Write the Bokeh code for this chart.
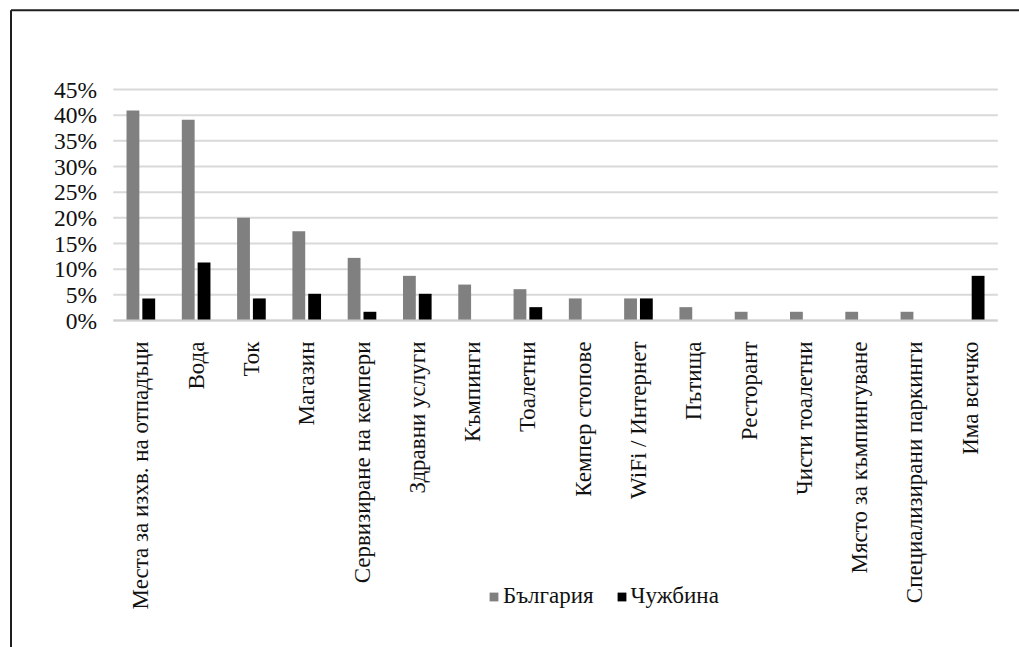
from bokeh.plotting import figure
from bokeh.models import (ColumnDataSource, Range1d, FixedTicker,
                          PrintfTickFormatter, Legend, LegendItem)
from bokeh.embed import file_html
from bokeh.resources import INLINE
import math

# Facilities mentioned, share of respondents (%)
categories = [
    "Места за изхв. на отпадъци", "Вода", "Ток", "Магазин",
    "Сервизиране на кемпери", "Здравни услуги", "Къмпинги", "Тоалетни",
    "Кемпер стопове", "WiFi / Интернет", "Пътища", "Ресторант",
    "Чисти тоалетни", "Място за къмпингуване", "Специализирани паркинги",
    "Има всичко",
]
bulgaria = [40.9, 39.1, 20.0, 17.4, 12.2, 8.7, 7.0, 6.1, 4.3, 4.3, 2.6, 1.7,
            1.7, 1.7, 1.7, 0.0]
abroad = [4.3, 11.3, 4.3, 5.2, 1.7, 5.2, 0.0, 2.6, 0.0, 4.3, 0.0, 0.0,
          0.0, 0.0, 0.0, 8.7]
y_ticks = [0, 5, 10, 15, 20, 25, 30, 35, 40, 45]
series_names = ["България", "Чужбина"]

FONT = "Liberation Serif"
GREY = "#808080"
BLACK = "#000000"
TEXT = "#111111"

# Page geometry: the plotting frame covers the whole page, so the axes are
# pinned inside it and the ranges are derived from pixel sizes.
W, H = 1019, 647
PLOT_LEFT, SLOT = 112.7, 55.29           # px of first slot edge, px per category
ZERO_Y, PX_PER_PCT = 320.0, 231.0 / 45   # px of 0 %, px per percent
x0 = -PLOT_LEFT / SLOT
x1 = (W - PLOT_LEFT) / SLOT
y1 = ZERO_Y / PX_PER_PCT
y0 = -(H - ZERO_Y) / PX_PER_PCT

n = len(categories)
centers = [i + 0.5 for i in range(n)]
src = ColumnDataSource(dict(
    xb=[c - 0.143 for c in centers], xa=[c + 0.143 for c in centers],
    bg=bulgaria, ab=abroad,
))

p = figure(
    x_range=Range1d(x0, x1), y_range=Range1d(y0, y1),
    frame_width=W, frame_height=H,
    output_backend="svg", toolbar_location=None,
    min_border=0,
)
p.outline_line_color = None
p.background_fill_color = "white"
p.border_fill_color = "white"

# Horizontal grid lines across the category span only
p.segment(x0=[0] * len(y_ticks), x1=[n] * len(y_ticks), y0=y_ticks, y1=y_ticks,
          line_color="#d9d9d9", line_width=2)

r1 = p.vbar(x="xb", top="bg", width=0.232, source=src,
            fill_color=GREY, line_color=None)
r2 = p.vbar(x="xa", top="ab", width=0.232, source=src,
            fill_color=BLACK, line_color=None)

# Frame border along the top and left of the page
bx = x0 + 10.5 / SLOT
by = y1 - 9.8 / PX_PER_PCT
p.segment(x0=[bx, bx], y0=[by, by], x1=[x1, bx], y1=[by, y0],
          line_color="#1e1e1e", line_width=2)

# Axes
p.yaxis.fixed_location = 0
p.yaxis.ticker = FixedTicker(ticks=y_ticks)
p.yaxis.formatter = PrintfTickFormatter(format="%d%%")
p.yaxis.axis_line_color = None
p.yaxis.major_tick_line_color = None
p.yaxis.minor_tick_line_color = None
p.yaxis.major_label_text_font = FONT
p.yaxis.major_label_text_font_size = "23.5px"
p.yaxis.major_label_text_color = TEXT
p.yaxis.major_label_standoff = 10

p.xaxis.fixed_location = 0
p.xaxis.bounds = (0, n)
p.xaxis.ticker = FixedTicker(ticks=centers)
p.xaxis.major_label_overrides = {c: name for c, name in zip(centers, categories)}
p.xaxis.axis_line_color = "#d0d0d0"
p.xaxis.axis_line_width = 2
p.xaxis.major_tick_line_color = None
p.xaxis.minor_tick_line_color = None
p.xaxis.major_label_orientation = math.pi / 2
p.xaxis.major_label_text_font = FONT
p.xaxis.major_label_text_font_size = "23px"
p.xaxis.major_label_text_color = TEXT
p.xaxis.major_label_standoff = 15

p.xgrid.grid_line_color = None
p.ygrid.grid_line_color = None

legend = Legend(
    items=[LegendItem(label=series_names[0], renderers=[r1]),
           LegendItem(label=series_names[1], renderers=[r2])],
    orientation="horizontal",
    location=(488, 38),
    label_text_font=FONT, label_text_font_size="23px",
    label_text_color=TEXT,
    glyph_width=11, glyph_height=11,
    label_standoff=4, spacing=22, padding=0, margin=0,
    border_line_color=None, background_fill_alpha=0,
)
p.add_layout(legend, "center")

open("out.html", "w").write(file_html(p, INLINE))
